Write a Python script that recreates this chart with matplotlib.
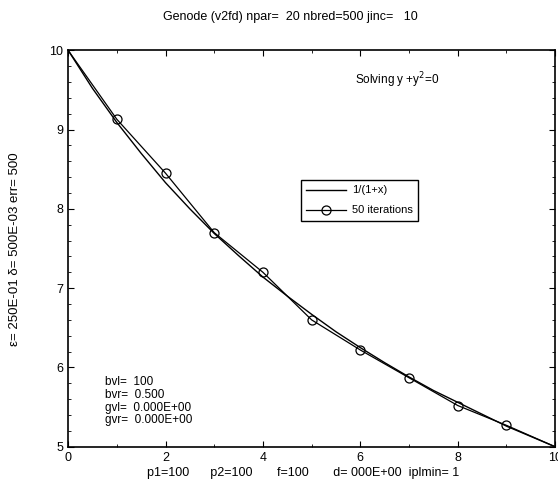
import matplotlib
matplotlib.use("Agg")
import matplotlib.pyplot as plt
from matplotlib.ticker import MultipleLocator

plt.rcParams['font.family'] = ['Liberation Sans', 'DejaVu Sans']

# exact curve 1/(1+x) at half-unit steps
curve_x = [0, 0.5, 1, 1.5, 2, 2.5, 3, 3.5, 4, 4.5, 5, 5.5, 6, 6.5, 7, 7.5, 8, 8.5, 9, 9.5, 10]
curve_y = [10.0, 9.52, 9.09, 8.70, 8.33, 8.00, 7.69, 7.41, 7.14, 6.90, 6.67,
           6.45, 6.25, 6.06, 5.88, 5.71, 5.56, 5.41, 5.26, 5.13, 5.0]

# 50 iterations solution
iter_x = [0, 1, 2, 3, 4, 5, 6, 7, 8, 9, 10]
iter_y = [10.0, 9.13, 8.45, 7.70, 7.20, 6.60, 6.22, 5.87, 5.52, 5.27, 5.0]

params = ["bvl=  100", "bvr=  0.500", "gvl=  0.000E+00", "gvr=  0.000E+00"]

fig = plt.figure(figsize=(5.58, 4.83), dpi=100)
ax = fig.add_axes([0.122, 0.075, 0.873, 0.821])

ax.plot(curve_x, curve_y, color='black', lw=1.0, label='1/(1+x)')
ax.plot(iter_x, iter_y, color='black', lw=0.9, marker='o', markersize=6.5,
        markerfacecolor='none', markeredgewidth=0.9, markevery=list(range(1, 10)),
        label='50 iterations')

ax.set_xlim(0, 10)
ax.set_ylim(5, 10)
ax.xaxis.set_major_locator(MultipleLocator(2))
ax.xaxis.set_minor_locator(MultipleLocator(1))
ax.yaxis.set_major_locator(MultipleLocator(1))
ax.yaxis.set_minor_locator(MultipleLocator(0.2))
ax.tick_params(which='both', direction='in', top=True, right=True, labelsize=9)
ax.tick_params(which='major', length=4)
ax.tick_params(which='minor', length=2)
for s in ax.spines.values():
    s.set_linewidth(1.2)

# legend box sits a bit right of the middle
ax.legend(loc='upper left', bbox_to_anchor=(0.466, 0.687), fontsize=8,
          frameon=True, fancybox=False, edgecolor='black', framealpha=1,
          handlelength=3.6, handletextpad=0.5, borderpad=0.5, labelspacing=0.9)

ax.text(0.59, 0.913, 'Solving y +y$^2$=0', transform=ax.transAxes, fontsize=8.5)
for i, p in enumerate(params):
    ax.text(0.075, 0.155 - i * 0.032, p, transform=ax.transAxes, fontsize=8.5)

fig.text(0.52, 0.958, 'Genode (v2fd) npar=  20 nbred=500 jinc=   10',
         ha='center', fontsize=9)
fig.text(0.027, 0.485, 'ε= 250E-01 δ= 500E-03 err= 500', rotation=90,
         ha='center', va='center', fontsize=9.5)
fig.text(0.263, 0.014, 'p1=100      p2=100       f=100       d= 000E+00  iplmin= 1',
         fontsize=9)

fig.savefig('out.png', dpi=100)
